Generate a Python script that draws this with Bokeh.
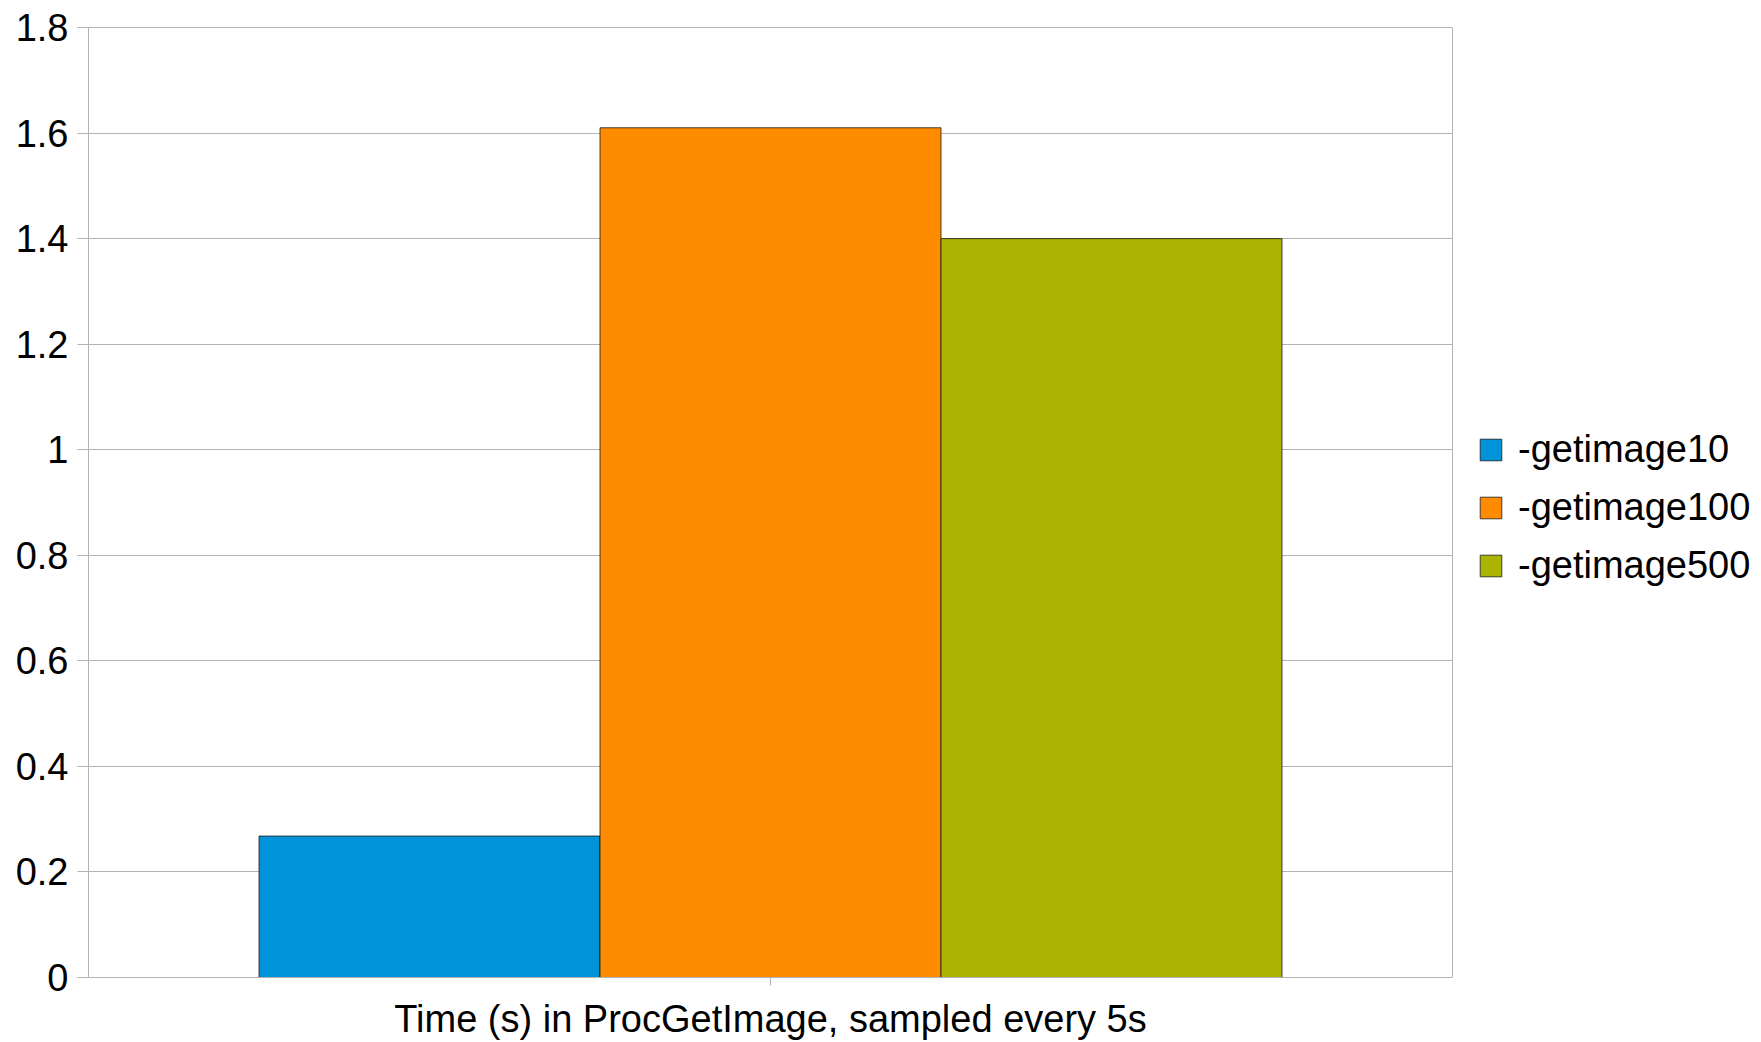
from bokeh.plotting import figure
from bokeh.models import (Range1d, FixedTicker, CustomJSTickFormatter, Legend, LegendItem,
                          BoxAnnotation, Span, LinearAxis)
from bokeh.embed import file_html
from bokeh.resources import INLINE

# --- data -------------------------------------------------------------
category = ["Time (s) in ProcGetImage, sampled every 5s"]
series = ["-getimage10", "-getimage100", "-getimage500"]
values = [0.268, 1.61, 1.40]
colors = ["#0093da", "#ff8c00", "#abb400"]
y_ticks = [0, 0.2, 0.4, 0.6, 0.8, 1.0, 1.2, 1.4, 1.6, 1.8]

FONT = "Liberation Sans"
FS = "38px"
GRID = "#b3b3b3"

# layout: chart area 1364 px wide, legend column to its right inside the same frame
LEFT, RIGHT_PAD, TOP, BOTTOM = 88, 0, 27, 65
W, H = 1761, 1042
CHART_W = 1364
x_end = (W - LEFT - RIGHT_PAD) / CHART_W   # the category spans [0, 1] on the x scale

p = figure(
    width=W, height=H,
    x_range=Range1d(0, x_end), y_range=Range1d(0, 1.8),
    output_backend="svg", toolbar_location=None,
    min_border_left=LEFT, min_border_right=RIGHT_PAD,
    min_border_top=TOP, min_border_bottom=BOTTOM,
)
p.outline_line_color = None

# clustered bars: three series side by side within the single category
bar_width = 0.25
centre = 0.5
items = []
for i, (name, val, col) in enumerate(zip(series, values, colors)):
    x = centre + (i - (len(series) - 1) / 2) * bar_width
    r = p.vbar(
        x=[x], top=[val], width=bar_width,
        fill_color=col, line_color="#1a1a1a", line_alpha=0.8, line_width=1,
    )
    items.append(LegendItem(label=name, renderers=[r]))

# axes
p.yaxis.ticker = FixedTicker(ticks=y_ticks)
p.yaxis.formatter = CustomJSTickFormatter(code="return String(Math.round(tick * 10) / 10)")
for ax in (p.xaxis[0], p.yaxis[0]):
    ax.axis_line_color = GRID
    ax.major_tick_line_color = GRID
    ax.minor_tick_line_color = None
    ax.major_label_text_font = FONT
    ax.major_label_text_font_size = FS
    ax.major_label_text_color = "black"
p.yaxis.major_tick_out = 11
p.yaxis.major_tick_in = 0
p.yaxis.major_label_standoff = 9

p.xaxis.bounds = (0, 1)
p.xaxis.ticker = FixedTicker(ticks=[centre])
p.xaxis.formatter = CustomJSTickFormatter(args=dict(name=category[0]), code="return name")
p.xaxis.major_tick_out = 8
p.xaxis.major_tick_in = 0
p.xaxis.major_label_standoff = 12
p.xaxis.major_label_orientation = "horizontal"

# top edge of the chart area: a bare axis line limited to the category span
top_edge = LinearAxis(
    bounds=(0, 1), ticker=FixedTicker(ticks=[]),
    axis_line_color=GRID, major_tick_line_color=None, minor_tick_line_color=None,
)
p.add_layout(top_edge, "above")

p.xgrid.grid_line_color = None
p.ygrid.grid_line_color = GRID
p.ygrid.grid_line_width = 1
p.ygrid.bounds = (0, 1.6)

# blank column for the legend, and the right edge of the chart area
p.add_layout(BoxAnnotation(left=1.0, fill_color="white", fill_alpha=1.0, line_color=None))
p.add_layout(Span(location=1.0, dimension="height", line_color=GRID, line_width=1))

legend = Legend(
    items=items, location=(1389, 390),
    border_line_color=None, background_fill_alpha=0,
    label_text_font=FONT, label_text_font_size=FS, label_text_color="black",
    glyph_width=27, glyph_height=27, label_standoff=14,
    label_height=44, spacing=14, padding=0, margin=0,
)
p.add_layout(legend, "center")

open("out.html", "w").write(file_html(p, INLINE))
